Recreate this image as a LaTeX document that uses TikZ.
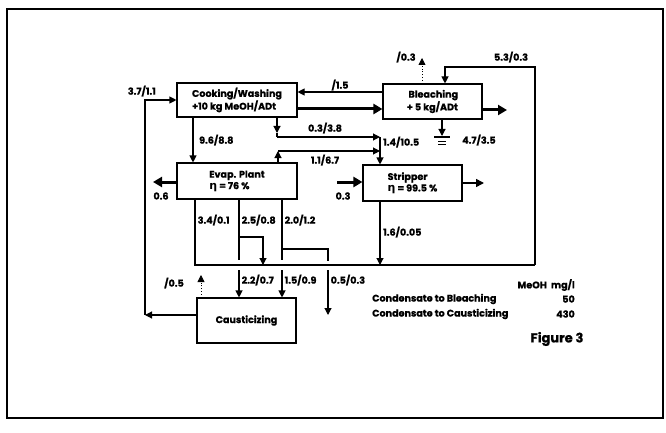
\documentclass[tikz,border=0pt]{standalone}
\usepackage{fontspec}
\setmainfont{Poppins}[BoldFeatures={FakeBold=0.8}]
\newfontfamily\grk{DejaVu Sans}
\usetikzlibrary{arrows.meta}
\newcommand{\myeta}{{\grk\bfseries\fontsize{11}{11}\selectfont η}}
\begin{document}
\begin{tikzpicture}[x=1pt,y=-1pt,
  font=\fontsize{9.6}{11.5}\selectfont\bfseries,
  box/.style={draw,line width=1.1pt,align=left,inner sep=1pt},
  lbl/.style={inner sep=0pt},
  ln/.style={line width=1.1pt},
  arr/.style={line width=1.1pt,-{Triangle[length=7pt,width=7pt]}},
  medarr/.style={line width=1.6pt,-{Triangle[length=8pt,width=8pt]}},
  thickarr/.style={line width=3pt,-{Triangle[length=9pt,width=10pt]}},
  dotarr/.style={line width=0.8pt,dotted,-{Triangle[length=7pt,width=7pt]}}]
\useasboundingbox (0,0) rectangle (666,433);
\draw[line width=2pt] (7,9) rectangle (663,418);

% boxes
\node[box,minimum width=120,minimum height=34] (C) at (237,100) {Cooking/Washing\\+10 kg MeOH/ADt};
\node[box,minimum width=99,minimum height=35] (B) at (432.5,101.5) {\,Bleaching\\+ 5 kg/ADt};
\node[box,minimum width=120,minimum height=36] (E) at (237,181) {Evap. Plant\\\myeta\ = 76 \%};
\node[box,minimum width=99,minimum height=36] (S) at (412.5,183) {Stripper\\\myeta\ = 99.5 \%};
\node[box,minimum width=99,minimum height=45] (K) at (246.5,320.5) {Causticizing};

% coordinates
\coordinate (LL) at (145,315);
\coordinate (LU) at (145,100);
\coordinate (y92) at (0,92);
\coordinate (y109) at (0,109);
\coordinate (y110) at (0,110);
\coordinate (BR) at (507,110);
\coordinate (TL1) at (445,67);
\coordinate (TL2) at (535,67);
\coordinate (TL3) at (535,265);
\coordinate (DT) at (422,58);
\coordinate (G) at (442,136);
\coordinate (x193) at (193,0);
\coordinate (P0) at (277,133);
\coordinate (P1) at (277,137);
\coordinate (P2) at (380,137);
\coordinate (Q1) at (278,151);
\coordinate (Q2) at (380,151);
\coordinate (V1) at (380,137);
\coordinate (y182) at (0,182);
\coordinate (EL) at (153,182);
\coordinate (SL) at (337,182);
\coordinate (y183) at (0,183);
\coordinate (SR) at (484,183);
\coordinate (SB) at (380,265);
\coordinate (BL0) at (195,265);
\coordinate (a1) at (239,260);
\coordinate (a2) at (239,237);
\coordinate (a3) at (263,237);
\coordinate (a4) at (263,265);
\coordinate (b1) at (282,260);
\coordinate (b2) at (282,249);
\coordinate (b3) at (328,249);
\coordinate (b4) at (328,261);
\coordinate (c1) at (239,270);
\coordinate (c2) at (282,270);
\coordinate (c3) at (328,270);
\coordinate (c4) at (328,315);
\coordinate (d1) at (201,275);

% left loop
\draw[arr] (K.west |- LL) -- (LL);
\draw[arr] (LL) -- (LU) -- (C.west |- LU);
% C <-> B
\draw[arr] (B.west |- y92) -- (C.east |- y92);
\draw[thickarr] (C.east |- y109) -- (B.west |- y109);
\draw[thickarr] (B.east |- y110) -- (BR);
% top loop
\draw[arr] (TL3) -- (TL2) -- (TL1) -- (B.north -| TL1);
\draw[dotarr] (B.north -| DT) -- (DT);
% bleaching bottom with ground symbol
\draw[arr] (B.south -| G) -- (G);
\draw[ln] (434,137) -- (450,137);
\draw[line width=0.9pt] (438,141) -- (446,141) (438,144.5) -- (446,144.5);
% C -> E
\draw[arr] (C.south -| x193) -- (E.north -| x193);
% 0.3/3.8 and 1.1/6.7
\draw[arr] (C.south -| P0) -- (P0);
\draw[ln] (P0) -- (P1);
\draw[arr] (P1) -- (P2);
\draw[arr] (E.north -| Q1) -- (Q1);
\draw[arr] (Q1) -- (Q2);
\draw[arr] (V1) -- (S.north -| V1);
% side arrows
\draw[thickarr] (E.west |- y182) -- (EL);
\draw[thickarr] (SL) -- (S.west |- y182);
\draw[medarr] (S.east |- y183) -- (SR);
\draw[arr] (S.south -| SB) -- (SB);
% evap bottom
\draw[ln] (E.south -| BL0) -- (BL0) -- (TL3);
\draw[ln] (E.south -| a1) -- (a1);
\draw[arr] (a2) -- (a3) -- (a4);
\draw[ln] (E.south -| b1) -- (b1);
\draw[ln] (b2) -- (b3) -- (b4);
% below bottom line
\draw[arr] (c1) -- (K.north -| c1);
\draw[arr] (c2) -- (K.north -| c2);
\draw[arr] (c3) -- (c4);
\draw[dotarr] (K.north -| d1) -- (d1);

% labels
\node[lbl,anchor=east] (l1) at (156,91) {3.7/1.1};
\node[lbl] (l2) at (340,85) {/1.5};
\node[lbl] (l3) at (406,57) {/0.3};
\node[lbl] (l4) at (511,57) {5.3/0.3};
\node[lbl,anchor=west] (l5) at (199,140) {9.6/8.8};
\node[lbl] (l6) at (325,128) {0.3/3.8};
\node[lbl] (l7) at (325,160) {1.1/6.7};
\node[lbl,anchor=west] (l8) at (383,142) {1.4/10.5};
\node[lbl,anchor=west] (l9) at (462,140) {4.7/3.5};
\node[lbl] (l10) at (161,196) {0.6};
\node[lbl] (l11) at (343,196) {0.3};
\node[lbl,anchor=west] (l12) at (383,232) {1.6/0.05};
\node[lbl,anchor=west] (l13) at (197.5,220) {3.4/0.1};
\node[lbl,anchor=west] (l14) at (241.5,220) {2.5/0.8};
\node[lbl,anchor=west] (l15) at (284.5,220) {2.0/1.2};
\node[lbl,anchor=west] (l16) at (241.5,280) {2.2/0.7};
\node[lbl,anchor=west] (l17) at (284.5,280) {1.5/0.9};
\node[lbl,anchor=west] (l18) at (330.5,280) {0.5/0.3};
\node[lbl] (l19) at (174,283) {/0.5};
% legend
\node[lbl,anchor=east] (m1) at (547,285) {MeOH};
\node[lbl,anchor=east] (m2) at (575,285) {mg/l};
\node[lbl,anchor=west] (m3) at (372,299) {Condensate to Bleaching};
\node[lbl,anchor=east] (m4) at (575,299) {50};
\node[lbl,anchor=west] (m5) at (372,314) {Condensate to Causticizing};
\node[lbl,anchor=east] (m6) at (575,314) {430};
\node[lbl,font=\fontsize{13}{15}\selectfont\bfseries] (fig) at (557,339) {Figure 3};
\end{tikzpicture}
\end{document}
